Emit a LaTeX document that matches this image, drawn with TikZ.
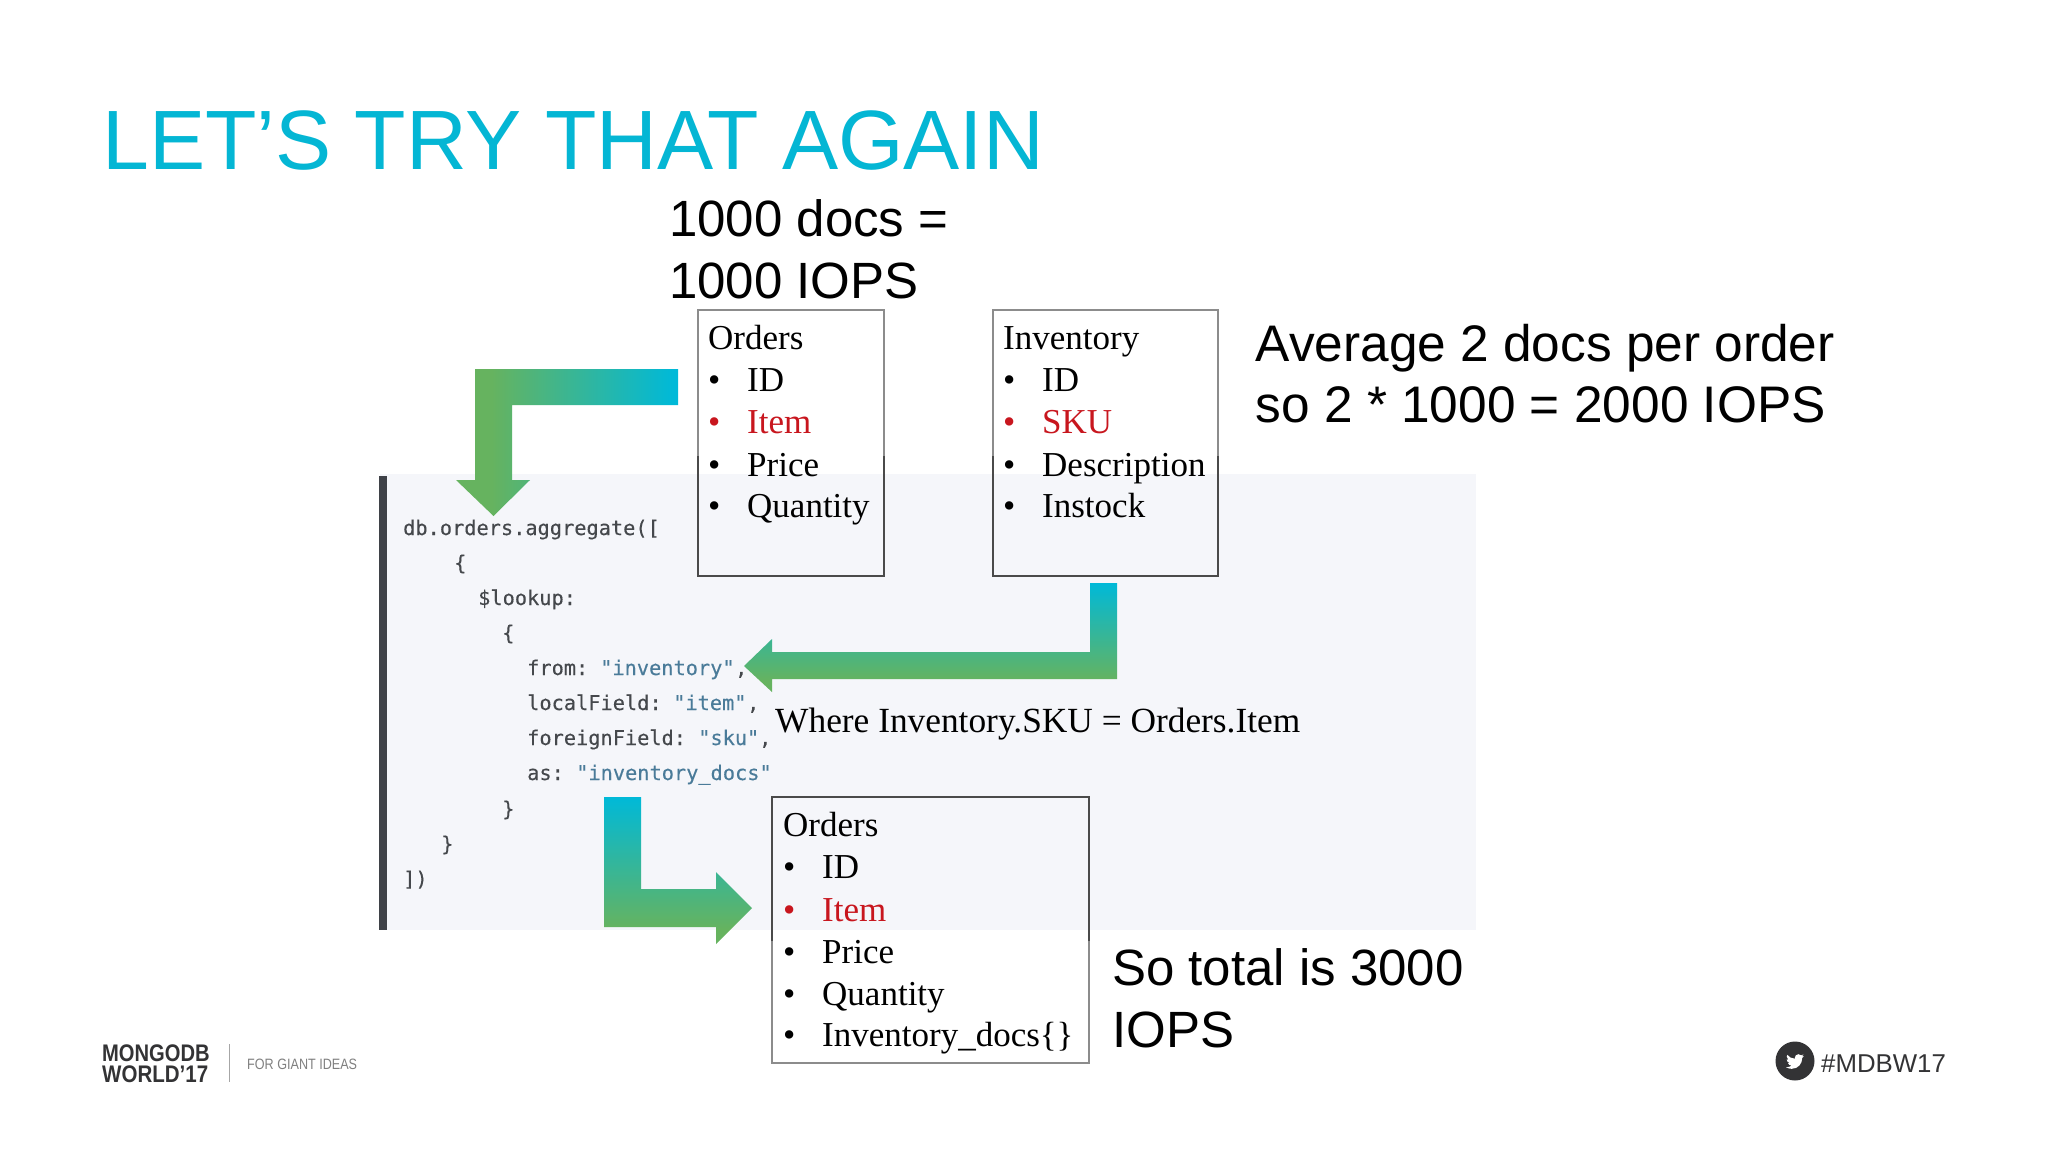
\documentclass[tikz,border=0pt]{standalone}
\usepackage{fontspec}
\setmainfont{Liberation Sans}
\newfontfamily\boxfont{Liberation Serif}
\newfontfamily\codefont[FakeBold=0.25]{DejaVu Sans Mono}
\definecolor{cyanA}{HTML}{00B9D8}
\definecolor{greenA}{HTML}{66B35F}
\definecolor{titleC}{HTML}{04B6D4}
\definecolor{panelC}{HTML}{F5F6FA}
\definecolor{barC}{HTML}{3F4248}
\definecolor{keyC}{HTML}{45484C}
\definecolor{strC}{HTML}{4A7B99}
\definecolor{redC}{HTML}{C8161E}
\definecolor{lineLight}{HTML}{8C8C8C}
\definecolor{lineDark}{HTML}{4A4A4A}
\definecolor{markC}{HTML}{333335}
\pgfdeclarehorizontalshading{arrowleft}{100bp}{color(0bp)=(greenA); color(33bp)=(greenA); color(74bp)=(cyanA); color(100bp)=(cyanA)}
\pgfdeclareverticalshading{arrowdown}{100bp}{color(0bp)=(greenA); color(30bp)=(greenA); color(75bp)=(cyanA); color(100bp)=(cyanA)}
\tikzset{
  big/.style={anchor=base west,inner sep=0pt,font=\fontsize{51}{61}\selectfont,text=black},
  bigwide/.style={big,font=\fontsize{51.4}{61}\selectfont},
  item/.style={anchor=base west,inner sep=0pt,font=\boxfont\fontsize{35}{40}\selectfont,text=black},
  reditem/.style={item,text=redC},
  code/.style={anchor=base west,inner sep=0pt,font=\codefont\fontsize{20.3}{24}\selectfont,text=keyC},
  strpart/.style={code,text=strC},
  boxframe/.style={draw=lineLight,line width=1.2pt,fill=none},
  boxlow/.style={draw=lineDark,line width=1.3pt},
  bar/.style={shading=arrowdown,draw=none}
}
\begin{document}
\begin{tikzpicture}[x=1pt,y=-1pt]
\useasboundingbox (0,0) rectangle (2048,1152);
\fill[white] (0,0) rectangle (2048,1152);
% panel
\fill[panelC] (380,474) rectangle (1476,930);
\fill[barC] (379,476) rectangle (387,930);
% title
\node[anchor=base west,inner sep=0pt,text=titleC,font=\fontsize{84.2}{90}\selectfont] (title) at (102,169) {LET’S TRY THAT AGAIN};
% labels
\node[big] (a1) at (669,236) {1000 docs =};
\node[big] (a2) at (669,298) {1000 IOPS};
\node[bigwide] (b1) at (1255.5,361) {Average 2 docs per order};
\node[bigwide] (b2) at (1255.5,422.5) {so 2 * 1000 = 2000 IOPS};
\node[big] (c1) at (1112,985.5) {So total is 3000};
\node[big] (c2) at (1112,1047.5) {IOPS};
\node[anchor=base west,inner sep=0pt,font=\boxfont\fontsize{35.35}{40}\selectfont] (where) at (775,732) {Where Inventory.SKU = Orders.Item};
% code
\node[code] (l1) at (403,535) {db.orders.aggregate([};
\node[code] (l2) at (454,570) {\{};
\node[code] (l3) at (478,605) {\$lookup:};
\node[code] (l4) at (502,640) {\{};
\node[code] (l5a) at (527,675) {from:};
\node[strpart] (l5b) at (600,675) {"inventory"};
\node[code] (l5c) at (735,675) {,};
\node[code] (l6a) at (527,710) {localField:};
\node[strpart] (l6b) at (673,710) {"item"};
\node[code] (l6c) at (747,710) {,};
\node[code] (l7a) at (527,745) {foreignField:};
\node[strpart] (l7b) at (698,745) {"sku"};
\node[code] (l7c) at (759,745) {,};
\node[code] (l8a) at (527,780) {as:};
\node[strpart] (l8b) at (576,780) {"inventory\_docs"};
\node[code] (l9) at (502,816) {\}};
\node[code] (l10) at (441,851) {\}};
\node[code] (l11) at (403,886) {])};
% boxes
\draw[boxframe] (698,310) rectangle (884,576);
\draw[boxlow] (698,456) -- (698,576) -- (884,576) -- (884,456);
\draw[boxframe] (993,310) rectangle (1218,576);
\draw[boxlow] (993,456) -- (993,576) -- (1218,576) -- (1218,456);
\draw[boxframe] (772,1063) -- (772,797) -- (1089,797) -- (1089,1063) -- cycle;
\draw[boxlow] (772,941) -- (772,797) -- (1089,797) -- (1089,941);
% box 1
\node[item] (o0) at (708,349) {Orders};
\node[item] (ob1) at (708,391) {•};
\node[item] (o1) at (747,391) {ID};
\node[reditem] (ob2) at (708,433.5) {•};
\node[reditem] (o2) at (747,433.5) {Item};
\node[item] (ob3) at (708,476) {•};
\node[item] (o3) at (747,476) {Price};
\node[item] (ob4) at (708,517) {•};
\node[item] (o4) at (747,517) {Quantity};
% box 2
\node[item] (i0) at (1003,349) {Inventory};
\node[item] (ib1) at (1003,391) {•};
\node[item] (i1) at (1042,391) {ID};
\node[reditem] (ib2) at (1003,433.5) {•};
\node[reditem] (i2) at (1042,433.5) {SKU};
\node[item] (ib3) at (1003,476) {•};
\node[item] (i3) at (1042,476) {Description};
\node[item] (ib4) at (1003,517) {•};
\node[item] (i4) at (1042,517) {Instock};
% box 3
\node[item] (r0) at (783,836) {Orders};
\node[item] (rb1) at (783,878) {•};
\node[item] (r1) at (822,878) {ID};
\node[reditem] (rb2) at (783,921) {•};
\node[reditem] (r2) at (822,921) {Item};
\node[item] (rb3) at (783,963) {•};
\node[item] (r3) at (822,963) {Price};
\node[item] (rb4) at (783,1005) {•};
\node[item] (r4) at (822,1005) {Quantity};
\node[item] (rb5) at (783,1046) {•};
\node[item] (r5) at (822,1046) {Inventory\_docs\{\}};
% arrows
\shade[shading=arrowleft,draw=none] (678,369) -- (475,369) -- (475,480) -- (456,480) -- (493.5,516) -- (530,480) -- (512,480) -- (512,405) -- (678,405) -- cycle;
\shade[bar] (1090,583) -- (1090,652) -- (772,652) -- (772,639) -- (744,666) -- (772,692) -- (772,679) -- (1117,679) -- (1117,583) -- cycle;
\shade[bar] (604,797) -- (604,927) -- (716,927) -- (716,944) -- (752,908) -- (716,872) -- (716,889) -- (641,889) -- (641,797) -- cycle;
% footer
\node[anchor=base west,inner sep=0pt,text=markC,font=\bfseries\fontsize{24}{24}\selectfont] (m1) at (102,1061) {\scalebox{.84}[1]{MONGODB}};
\node[anchor=base west,inner sep=0pt,text=markC,font=\bfseries\fontsize{24}{24}\selectfont] (m2) at (102,1082) {\scalebox{.855}[1]{WORLD’17}};
\draw[draw=gray!70,line width=1pt] (229,1044) -- (229,1082);
\node[anchor=base west,inner sep=0pt,text=gray,font=\fontsize{15}{16}\selectfont] (giant) at (247,1069) {\scalebox{.84}[1]{FOR GIANT IDEAS}};
\fill[markC] (1795,1061) circle (19.5);
\fill[white,shift={(1786,1052.5)},scale=0.75] (23.95,4.57) .. controls (23.07,4.96) and (22.12,5.22) .. (21.13,5.35)
.. controls (22.14,4.74) and (22.93,3.78) .. (23.29,2.62)
.. controls (22.34,3.18) and (21.29,3.58) .. (20.16,3.80)
.. controls (19.27,2.85) and (18,2.26) .. (16.6,2.26)
.. controls (13.9,2.26) and (11.7,4.46) .. (11.7,7.18)
.. controls (11.7,7.56) and (11.74,7.94) .. (11.83,8.3)
.. controls (7.69,8.1) and (4.07,6.13) .. (1.64,3.16)
.. controls (1.22,3.88) and (0.97,4.74) .. (0.97,5.64)
.. controls (0.97,7.35) and (1.84,8.85) .. (3.16,9.73)
.. controls (2.35,9.7) and (1.59,9.48) .. (0.93,9.12)
-- (0.93,9.18)
.. controls (0.93,11.56) and (2.62,13.55) .. (4.88,14.0)
.. controls (4.46,14.11) and (4.03,14.17) .. (3.58,14.17)
.. controls (3.26,14.17) and (2.96,14.14) .. (2.66,14.09)
.. controls (3.28,16.04) and (5.1,17.46) .. (7.27,17.5)
.. controls (5.58,18.83) and (3.45,19.61) .. (1.17,19.61)
.. controls (0.78,19.61) and (0.39,19.59) .. (0,19.54)
.. controls (2.18,20.94) and (4.77,21.75) .. (7.56,21.75)
.. controls (16.6,21.75) and (21.55,14.25) .. (21.55,7.77)
.. controls (21.55,7.56) and (21.55,7.35) .. (21.54,7.14)
.. controls (22.5,6.44) and (23.34,5.58) .. (23.95,4.57) -- cycle;
\node[anchor=base west,inner sep=0pt,text=markC,font=\fontsize{25.8}{26}\selectfont] (tag) at (1821,1072) {\#MDBW17};
\end{tikzpicture}
\end{document}
